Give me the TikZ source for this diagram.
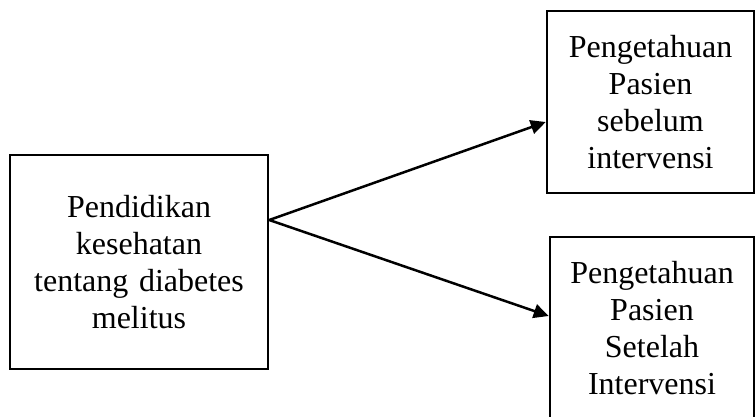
\documentclass[tikz,border=0pt]{standalone}
\usepackage{fontspec}
\setmainfont{Liberation Serif}
\usetikzlibrary{arrows.meta}

\tikzset{
  kotak/.style={draw, black, line width=2.5pt, align=center, inner sep=0pt,
    font=\fontsize{32}{37}\selectfont},
  panah/.style={line width=2.5pt, -{Triangle[length=15pt,width=14pt]}}
}

\begin{document}
\begin{tikzpicture}[x=1pt, y=1pt]

\clip (0,0) rectangle (756,-416);

\node (pendidikan) at (139,-262) [kotak, minimum width=258, minimum height=214, text width=258]
  {Pendidikan\\kesehatan\\tentang diabetes\\melitus};

\node (sebelum) at (650.5,-102) [kotak, minimum width=207, minimum height=182, text width=207]
  {Pengetahuan\\Pasien\\sebelum\\intervensi};

\node (setelah) at (652,-328) [kotak, minimum width=204, minimum height=182, text width=204]
  {Pengetahuan\\Pasien\\Setelah\\Intervensi};

\draw [panah] ([yshift=42pt]pendidikan.east) -- ([yshift=-20pt]sebelum.west);
\draw [panah] ([yshift=42pt]pendidikan.east) -- ([yshift=12pt]setelah.west);

\end{tikzpicture}
\end{document}
